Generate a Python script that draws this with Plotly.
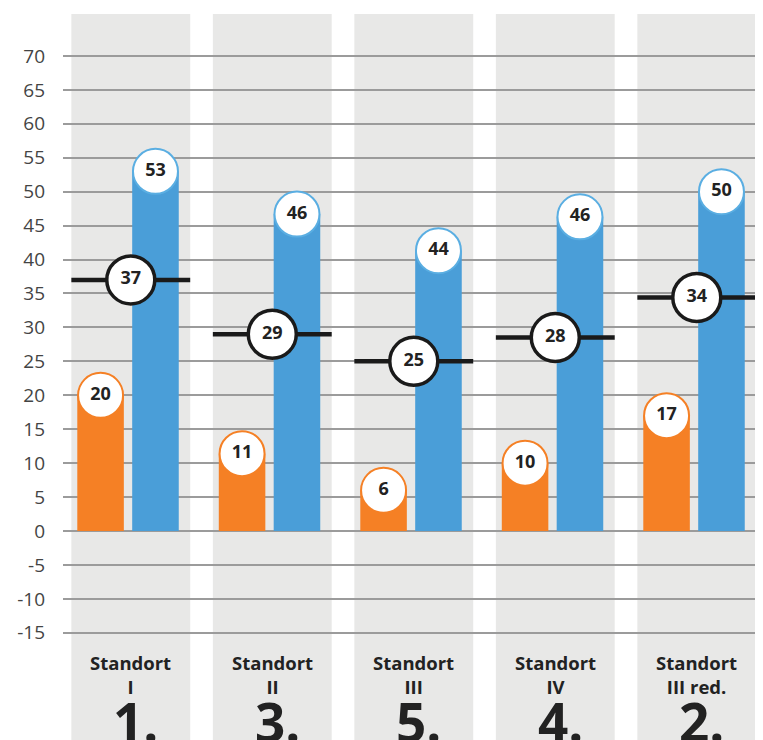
import plotly.graph_objects as go

# ---- data ----
categories = ["Standort<br>I", "Standort<br>II", "Standort<br>III", "Standort<br>IV", "Standort<br>III red."]
ranks = ["1.", "3.", "5.", "4.", "2."]
orange_values = [20, 11.4, 6, 10, 17]
orange_labels = ["20", "11", "6", "10", "17"]
blue_values = [53, 46.7, 41.3, 46.3, 50]
blue_labels = ["53", "46", "44", "46", "50"]
mean_values = [37, 29, 25, 28.5, 34.4]
mean_labels = ["37", "29", "25", "28", "34"]
y_ticks = [-15, -10, -5, 0, 5, 10, 15, 20, 25, 30, 35, 40, 45, 50, 55, 60, 65, 70]

# ---- style ----
ORANGE = "#F58025"
BLUE = "#4A9ED8"
BLUE_EDGE = "#5AAEE2"
BAND = "#E8E8E7"
GRID = "#9B9B9B"
DARK = "#222222"
FONT = "Open Sans"

BAR_W = 0.329
OFF_O = -0.378
OFF_B = 0.010
BAND_HALF = 0.42

idx = list(range(len(categories)))

fig = go.Figure()

# grey background bands
for i in idx:
    fig.add_shape(type="rect", xref="x", yref="y", layer="below",
                  x0=i - BAND_HALF, x1=i + BAND_HALF, y0=-40, y1=76.2,
                  fillcolor=BAND, line=dict(width=0))

# bars
fig.add_trace(go.Bar(x=idx, y=orange_values, width=BAR_W, offset=OFF_O,
                     marker=dict(color=ORANGE, line=dict(width=0)), hoverinfo="skip"))
fig.add_trace(go.Bar(x=idx, y=blue_values, width=BAR_W, offset=OFF_B,
                     marker=dict(color=BLUE, line=dict(width=0)), hoverinfo="skip"))

# mean lines
lx, ly = [], []
for i, m in zip(idx, mean_values):
    lx += [i - BAND_HALF, i + BAND_HALF, None]
    ly += [m, m, None]
fig.add_trace(go.Scatter(x=lx, y=ly, mode="lines",
                         line=dict(color="#1A1A1A", width=4.5), hoverinfo="skip"))

circle_font = dict(family=FONT, size=18, color=DARK, weight="bold")

# value circles
fig.add_trace(go.Scatter(x=[i + OFF_O + BAR_W / 2 for i in idx], y=orange_values,
                         mode="markers+text", text=orange_labels, textposition="middle center",
                         textfont=circle_font,
                         marker=dict(size=45, color="white", line=dict(color=ORANGE, width=2)),
                         hoverinfo="skip"))
fig.add_trace(go.Scatter(x=[i + OFF_B + BAR_W / 2 for i in idx], y=blue_values,
                         mode="markers+text", text=blue_labels, textposition="middle center",
                         textfont=circle_font,
                         marker=dict(size=45, color="white", line=dict(color=BLUE_EDGE, width=2)),
                         hoverinfo="skip"))
fig.add_trace(go.Scatter(x=idx, y=mean_values,
                         mode="markers+text", text=mean_labels, textposition="middle center",
                         textfont=circle_font,
                         marker=dict(size=48, color="white", line=dict(color="#1A1A1A", width=3.5)),
                         hoverinfo="skip"))

# category labels and ranks
for i, c, r in zip(idx, categories, ranks):
    fig.add_annotation(x=i, y=-21.2, xref="x", yref="y", text="<b>" + c + "</b>",
                       showarrow=False, xanchor="center", yanchor="middle",
                       font=dict(family=FONT, size=18.5, color=DARK))
    fig.add_annotation(x=i, y=-28.0, xref="x", yref="y", text="<b>" + r + "</b>",
                       showarrow=False, xanchor="center", yanchor="middle", xshift=5,
                       font=dict(family=FONT, size=53, color=DARK))

# page body has an 8px margin, so the figure is 8px smaller than the window
fig.update_layout(
    width=755, height=732,
    margin=dict(l=55, r=0, t=0, b=0),
    paper_bgcolor="white", plot_bgcolor="white",
    barmode="overlay", showlegend=False,
    xaxis=dict(range=[-0.479, 4.468], showgrid=False, zeroline=False,
               showticklabels=False, showline=False, fixedrange=True),
    yaxis=dict(range=[-30.8, 77.07], tickvals=y_ticks, ticktext=[str(v) for v in y_ticks],
               showgrid=True, gridcolor=GRID, gridwidth=2, zeroline=False,
               showline=False, ticks="", ticklabelstandoff=17,
               tickfont=dict(family=FONT, size=19, color="#444444"), fixedrange=True),
)

fig.write_html("out.html", config={"displayModeBar": False})
